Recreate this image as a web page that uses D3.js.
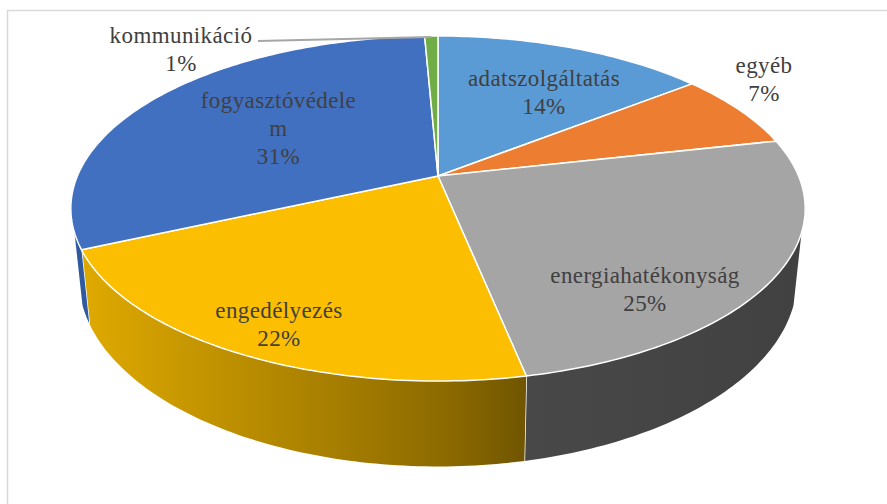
<!DOCTYPE html>
<html>
<head>
<meta charset="utf-8">
<script src="https://cdn.jsdelivr.net/npm/d3@7"></script>
<style>
  html, body { margin: 0; padding: 0; background: #fff; }
  svg { display: block; }
  text { font-family: "Liberation Serif", serif; font-size: 23px; letter-spacing: 0.4px; fill: #404040; text-anchor: middle; }
</style>
</head>
<body>
<svg width="887" height="504"></svg>
<script>
// chart data, share of each slice in percent (clockwise from the top)
var categories = ["adatszolgáltatás", "egyéb", "energiahatékonyság", "engedélyezés", "fogyasztóvédelem", "kommunikáció"];
var shares = [14.4, 7.1, 25.3, 21.5, 31.0, 0.7];
var colors = ["#5b9bd5", "#ed7d31", "#a5a5a5", "#fcbe00", "#4270c0", "#70ad47"];
// the picture breaks one long label in the middle of the word
var labelLines = [["adatszolgáltatás"], ["egyéb"], ["energiahatékonyság"], ["engedélyezés"], ["fogyasztóvédele", "m"], ["kommunikáció"]];
// label anchor (x, first baseline) in pixels
var labelX = [544, 764, 645, 279, 278.5, 181];
var labelY = [86, 73, 283, 318, 108, 43];

var svg = d3.select("svg");

// perspective of the tilted pie
var cx = 438, cy = 176,
    A = 166.4, B = 360.6, k = -0.1884,
    wallX = 0.978, wallY = 1.088, wallCy = 243.4;

// top plane: unit circle to screen
function topPt(a) {
  var u = Math.sin(a), v = -Math.cos(a), w = 1 + k * v;
  return [cx + B * u / w, cy + A * v / w];
}
// lower plane, same circle pushed down and narrowed
function lowPt(a) {
  var p = topPt(a);
  return [cx + wallX * (p[0] - cx), wallCy + wallY * (p[1] - cy)];
}
function samples(a0, a1) {
  var n = Math.max(2, Math.ceil((a1 - a0) * 60));
  return d3.range(n + 1).map(function(i) { return a0 + (a1 - a0) * i / n; });
}

var line = d3.line();
var pie = d3.pie().sort(null).value(function(d) { return d; }).startAngle(0).endAngle(2 * Math.PI);
var arcs = pie(shares);

// frame of the chart area, runs off the right and bottom of the crop
svg.append("path")
    .attr("d", "M7.5,504V10.5H887")
    .attr("fill", "none")
    .attr("stroke", "#d9d9d9")
    .attr("stroke-width", 1.5);

// gradients of the front wall
var defs = svg.append("defs");
var gradYellow = defs.append("linearGradient").attr("id", "wallYellow")
    .attr("gradientUnits", "userSpaceOnUse")
    .attr("x1", 90).attr("x2", 527).attr("y1", 0).attr("y2", 0);
gradYellow.append("stop").attr("offset", 0).attr("stop-color", "#dda800");
gradYellow.append("stop").attr("offset", 0.82).attr("stop-color", "#8c6a00");
gradYellow.append("stop").attr("offset", 1).attr("stop-color", "#705500");
var gradGray = defs.append("linearGradient").attr("id", "wallGray")
    .attr("gradientUnits", "userSpaceOnUse")
    .attr("x1", 527).attr("x2", 805).attr("y1", 0).attr("y2", 0);
gradGray.append("stop").attr("offset", 0).attr("stop-color", "#484848");
gradGray.append("stop").attr("offset", 1).attr("stop-color", "#414141");

// wall is only seen between these two angles of the rim
var wallStart = 108.7 * Math.PI / 180, wallEnd = 251.3 * Math.PI / 180;
var wallFill = {2: "url(#wallGray)", 3: "url(#wallYellow)", 4: "#2f5b9e"};

arcs.forEach(function(d, i) {
  var a0 = Math.max(d.startAngle, wallStart),
      a1 = Math.min(d.endAngle, wallEnd);
  if (a1 <= a0) return;
  var s = samples(a0, a1);
  var pts = s.map(topPt).concat(s.slice().reverse().map(lowPt));
  svg.append("path")
      .attr("class", "wall")
      .attr("d", line(pts) + "Z")
      .attr("fill", wallFill[i]);
  // seam between two walls
  if (d.endAngle < wallEnd) {
    svg.append("path")
        .attr("d", line([topPt(d.endAngle), lowPt(d.endAngle)]))
        .attr("stroke", "#fff")
        .attr("stroke-width", 1.5);
  }
});

// top face
svg.selectAll("path.slice")
    .data(arcs)
    .enter().append("path")
    .attr("class", "slice")
    .attr("d", function(d) {
      return line([[cx, cy]].concat(samples(d.startAngle, d.endAngle).map(topPt))) + "Z";
    })
    .attr("fill", function(d, i) { return colors[i]; })
    .attr("stroke", "#fff")
    .attr("stroke-width", 1.5)
    .attr("stroke-linejoin", "round");

// leader line of the smallest slice
var last = arcs[arcs.length - 1];
var leaderEnd = topPt((last.startAngle + last.endAngle) / 2);
svg.append("path")
    .attr("d", line([[258, 41], [leaderEnd[0], leaderEnd[1] + 1]]))
    .attr("fill", "none")
    .attr("stroke", "#a6a6a6")
    .attr("stroke-width", 2);

// data labels, category then percent
categories.forEach(function(name, i) {
  var rows = labelLines[i].concat([Math.round(shares[i]) + "%"]);
  var label = svg.append("text").attr("class", "label").attr("data-name", name);
  rows.forEach(function(row, j) {
    label.append("tspan")
        .attr("x", labelX[i])
        .attr("y", labelY[i] + j * 28)
        .text(row);
  });
});
</script>
</body>
</html>
